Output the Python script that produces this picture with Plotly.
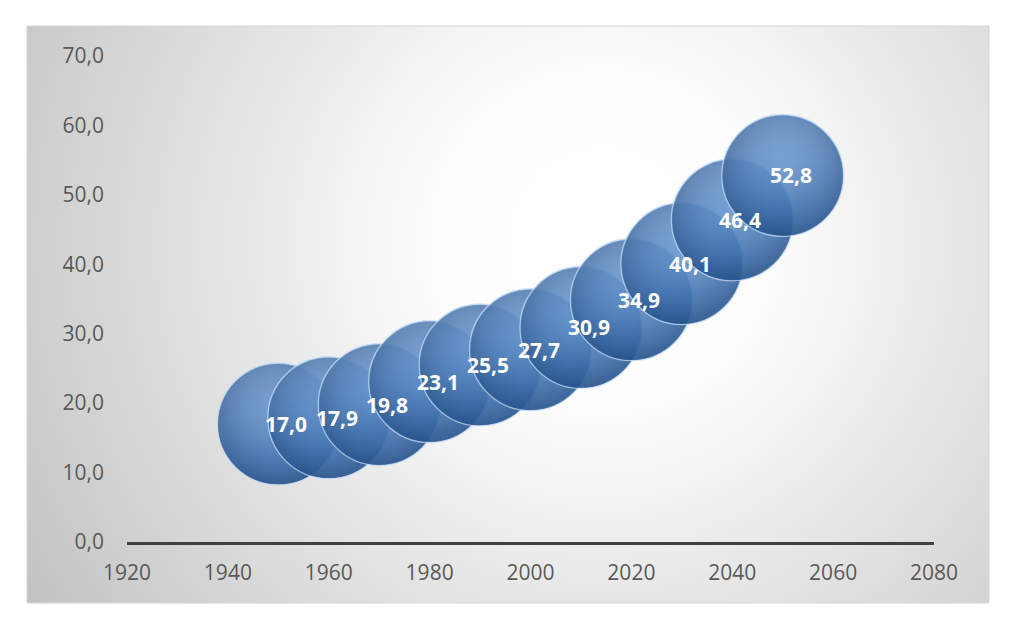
import base64
import plotly.graph_objects as go

# ---- data ----
years = [1950, 1960, 1970, 1980, 1990, 2000, 2010, 2020, 2030, 2040, 2050]
values = [17.0, 17.9, 19.8, 23.1, 25.5, 27.7, 30.9, 34.9, 40.1, 46.4, 52.8]
x_ticks = [1920, 1940, 1960, 1980, 2000, 2020, 2040, 2060, 2080]
y_ticks = [0, 10, 20, 30, 40, 50, 60, 70]

W, H = 1010, 625
ML, MR, MT, MB = 127, 76, 56, 83
PW, PH = W - ML - MR, H - MT - MB

# chart-area rectangle (pixels)
cx0, cy0, cx1, cy1 = 27, 26, 989, 603

svg = (
    "<svg xmlns='http://www.w3.org/2000/svg' width='962' height='577'>"
    "<defs><radialGradient id='g' gradientUnits='userSpaceOnUse' cx='575' cy='215' r='680'>"
    "<stop offset='0' stop-color='#ffffff'/>"
    "<stop offset='0.25' stop-color='#fdfdfd'/>"
    "<stop offset='1' stop-color='#c2c2c2'/>"
    "</radialGradient></defs>"
    "<rect width='962' height='577' fill='url(#g)'/></svg>"
)
uri = "data:image/svg+xml;base64," + base64.b64encode(svg.encode()).decode()

def px2x(p):
    return (p - ML) / PW

def px2y(p):
    return (H - MB - p) / PH

fig = go.Figure()

for xv, yv in zip(years, values):
    # body: light top to darker bottom
    fig.add_trace(go.Scatter(
        x=[xv], y=[yv], mode="markers", hoverinfo="skip", showlegend=False,
        marker=dict(size=122, color="#8db7e8", opacity=0.87,
                    gradient=dict(type="vertical", color="#3063a3"),
                    line=dict(width=1.2, color="rgba(200,220,245,0.85)")),
    ))
    # rim shading
    fig.add_trace(go.Scatter(
        x=[xv], y=[yv], mode="markers", hoverinfo="skip", showlegend=False,
        marker=dict(size=120, color="rgba(28,62,110,0.40)",
                    gradient=dict(type="radial", color="rgba(100,150,215,0.05)"),
                    line=dict(width=0)),
    ))

annotations = []
for xv, yv in zip(years, values):
    annotations.append(dict(
        x=xv, y=yv, xref="x", yref="y", showarrow=False, xshift=8,
        text=f"{yv:.1f}".replace(".", ","),
        font=dict(family="Open Sans", size=21, color="white", weight="bold"),
    ))

fig.update_layout(
    width=W, height=H,
    margin=dict(l=ML, r=MR, t=MT, b=MB, pad=0),
    paper_bgcolor="white",
    plot_bgcolor="rgba(0,0,0,0)",
    separators=", ",
    font=dict(family="Open Sans", size=21, color="#595959"),
    annotations=annotations,
    images=[dict(
        source=uri, xref="paper", yref="paper",
        x=px2x(cx0), y=px2y(cy0),
        sizex=(cx1 - cx0) / PW, sizey=(cy1 - cy0) / PH,
        xanchor="left", yanchor="top", sizing="stretch", layer="below",
    )],
    shapes=[dict(
        type="rect", xref="paper", yref="paper", layer="below",
        x0=px2x(cx0), x1=px2x(cx1), y0=px2y(cy1), y1=px2y(cy0),
        line=dict(color="#d6d6d6", width=1), fillcolor="rgba(0,0,0,0)",
    )],
    xaxis=dict(
        range=[1920, 2080], tickvals=x_ticks, ticktext=[str(t) for t in x_ticks],
        showgrid=False, zeroline=False, showline=True, linecolor="#404040",
        linewidth=3, ticks="", ticklabelstandoff=10,
    ),
    yaxis=dict(
        range=[0, 70], tickvals=y_ticks, tickformat=".1f",
        showgrid=False, zeroline=False, showline=False, ticks="",
        ticklabelstandoff=22,
    ),
)

fig.write_html("out.html")
